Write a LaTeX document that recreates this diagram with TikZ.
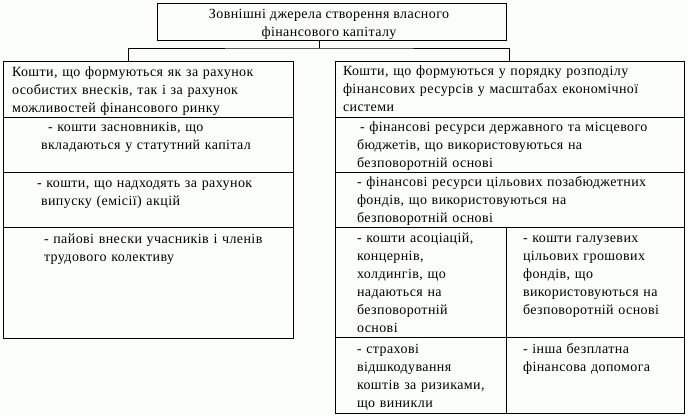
\documentclass[tikz,border=0pt]{standalone}
\usepackage{fontspec}
\setmainfont{Liberation Serif}[LetterSpace=3]
\definecolor{bg}{RGB}{252,254,252}
\begin{document}
\begin{tikzpicture}[x=1bp,y=-1bp,
  cell/.style={draw, line width=1bp, anchor=north west, inner sep=0pt, outer sep=0pt},
  txt/.style={anchor=north west, inner sep=0pt, outer sep=0pt, align=left, text width=#1,
    font=\fontsize{14bp}{18bp}\selectfont},
  txt/.default=330bp,
  link/.style={line width=1bp}]
\fill[bg] (0,0) rectangle (688,416);
\useasboundingbox (0,0) rectangle (688,416);
% top box
\node[cell, minimum width=349bp, minimum height=37bp] (top) at (157,3) {};
\node[anchor=north, inner sep=0pt, align=center, font=\fontsize{14bp}{18bp}\selectfont] (toptxt) at (329,5.6) {\strut Зовнішні джерела створення власного\\фінансового капіталу};
% left column
\node[cell, minimum width=290bp, minimum height=56bp] (lh) at (3,61) {};
\node[cell, minimum width=290bp, minimum height=55bp] (l1) at (3,117) {};
\node[cell, minimum width=290bp, minimum height=55bp] (l2) at (3,172) {};
\node[cell, minimum width=290bp, minimum height=111bp] (l3) at (3,227) {};
% right column
\node[cell, minimum width=349bp, minimum height=56bp] (rh) at (335,61) {};
\node[cell, minimum width=349bp, minimum height=55bp] (r1) at (335,117) {};
\node[cell, minimum width=349bp, minimum height=55bp] (r2) at (335,172) {};
\node[cell, minimum width=171bp, minimum height=110bp] (r3a) at (335,227) {};
\node[cell, minimum width=178bp, minimum height=110bp] (r3b) at (506,227) {};
\node[cell, minimum width=171bp, minimum height=76bp] (r4a) at (335,337) {};
\node[cell, minimum width=178bp, minimum height=76bp] (r4b) at (506,337) {};
% connectors
\coordinate (j) at ([xshift=-12bp]top.south);
\coordinate (jl) at ([xshift=-20bp]lh.north);
\draw[link] (j) -- ++(0,8) coordinate (jm);
\draw[link] (jl) |- (jm) -| (rh.north);
% texts
\node[txt=285bp] (lht) at (12,63.4) {\strut Кошти, що формуються як за рахунок\\особистих внесків, так і за рахунок\\можливостей фінансового ринку};
\node[txt=250bp] (l1t) at (41,118.4) {\strut\hspace*{7bp}- кошти засновників, що\\вкладаються у статутний капітал};
\node[txt=250bp] (l2t) at (41,174.4) {\strut\hspace*{-4bp}- кошти, що надходять за рахунок\\випуску (емісії) акцій};
\node[txt=250bp] (l3t) at (44,230.4) {\strut - пайові внески учасників і членів\\трудового колективу};
\node[txt=340bp] (rht) at (343,62.4) {\strut Кошти, що формуються у порядку розподілу\\фінансових ресурсів у масштабах економічної\\системи};
\node[txt=330bp] (r1t) at (357,118.4) {\strut\hspace*{3bp}- фінансові ресурси державного та місцевого\\бюджетів, що використовуються на\\безповоротній основі};
\node[txt=330bp] (r2t) at (357,173.4) {\strut - фінансові ресурси цільових позабюджетних\\фондів, що використовуються на\\безповоротній основі};
\node[txt=150bp] (r3at) at (357,229.4) {\strut - кошти асоціацій,\\концернів,\\холдингів, що\\надаються на\\безповоротній\\основі};
\node[txt=160bp] (r3bt) at (523,229.4) {\strut - кошти галузевих\\цільових грошових\\фондів, що\\використовуються на\\безповоротній основі};
\node[txt=150bp] (r4at) at (357,340.4) {\strut - страхові\\відшкодування\\коштів за ризиками,\\що виникли};
\node[txt=160bp] (r4bt) at (523,340.4) {\strut - інша безплатна\\фінансова допомога};
\end{tikzpicture}
\end{document}
